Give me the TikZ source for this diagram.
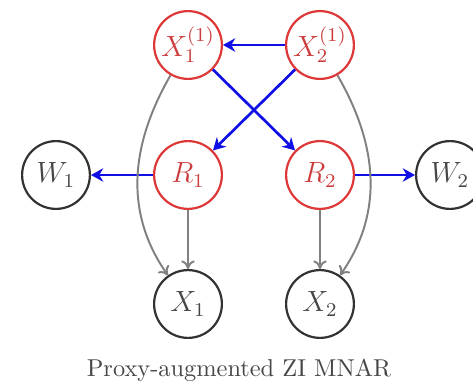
\documentclass[tikz,border=0pt]{standalone}
\usetikzlibrary{arrows.meta}
\definecolor{nodered}{RGB}{222,55,55}
\definecolor{labelred}{RGB}{205,60,60}
\definecolor{edgeblue}{RGB}{15,15,230}
\definecolor{edgegray}{RGB}{128,128,128}
\definecolor{nodedark}{RGB}{50,50,50}
\definecolor{labeldark}{RGB}{70,70,70}
\begin{document}
\begin{tikzpicture}[x=0.41pt,y=0.41pt,
  var/.style={circle, draw, line width=0.9pt, minimum size=27.8pt, inner sep=0pt,
    font=\fontsize{12}{14}\selectfont},
  miss/.style={var, draw=nodered, text=labelred},
  obs/.style={var, draw=nodedark, text=labeldark},
  cause/.style={draw=edgeblue, line width=1.1pt, -{Stealth[length=5pt,width=5.5pt,inset=1.6pt]}},
  link/.style={draw=edgegray, line width=0.8pt, -{To[length=3.5pt,width=5.5pt]}}]
\useasboundingbox (0,0) rectangle (473,387);
% missing-data layer (red)
\node[miss] (x11) at (188,342) {$X_1^{(1)}$};
\node[miss] (x21) at (320,342) {$X_2^{(1)}$};
\node[miss] (r1)  at (188,212) {$R_1$};
\node[miss] (r2)  at (320,212) {$R_2$};
% proxies and observed variables
\node[obs] (w1) at (56,212)  {$W_1$};
\node[obs] (w2) at (450,212) {$W_2$};
\node[obs] (x1) at (188,83)  {$X_1$};
\node[obs] (x2) at (320,83)  {$X_2$};
% caption
\node[text=labeldark] (cap) at (239,17) {Proxy-augmented ZI MNAR};
% blue causal edges
\draw[cause] (x21) -- (x11);
\draw[cause] (x21) -- (r1);
\draw[cause] (x11) -- (r2);
\draw[cause] (r1) -- (w1);
\draw[cause] (r2) -- (w2);
% grey edges into observed values
\draw[link] (r1) -- (x1);
\draw[link] (r2) -- (x2);
\draw[link] (x11) to[out=240, in=125] (x1);
\draw[link] (x21) to[out=300, in=55] (x2);
\end{tikzpicture}
\end{document}
